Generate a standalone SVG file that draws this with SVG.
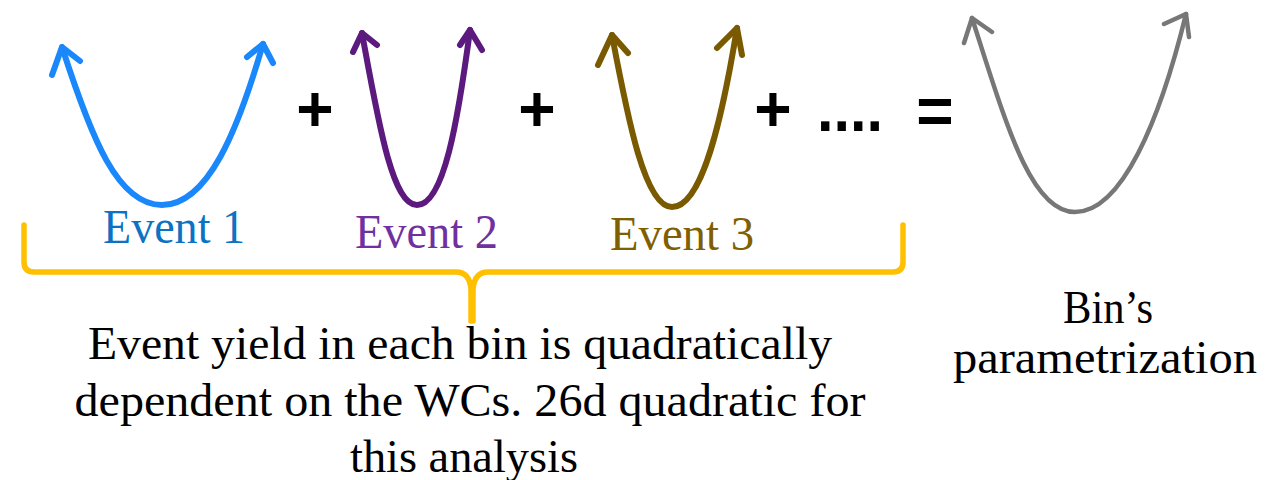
<svg xmlns="http://www.w3.org/2000/svg" width="1272" height="480" viewBox="0 0 1272 480">
<style>
.c{fill:none;stroke-linecap:round;stroke-linejoin:round}
.lbl{font-family:"Liberation Serif",serif;font-size:48px}
.txt{font-family:"Liberation Serif",serif;font-size:47px;fill:#000;text-anchor:middle}
.op{font-family:"Liberation Sans",Arial,sans-serif;font-weight:bold;font-size:64px;fill:#000;text-anchor:middle}
</style>
<rect width="1272" height="480" fill="#fff"/>
<g id="event1">
<path class="c" stroke="#1A87FA" stroke-width="6" d="M62,47 C92,140 118,205 162,205 C208,205 238,130 263,44"/>
<path class="c" stroke="#1A87FA" stroke-width="6" d="M52,75 L62,47 L80,61 M247,57 L263,44 L273,63"/>
<text class="lbl" x="103" y="243" fill="#0B72C4" textLength="142" lengthAdjust="spacingAndGlyphs">Event 1</text>
</g>
<g id="event2">
<path class="c" stroke="#5C1A7E" stroke-width="6" d="M362,33 C378,120 392,205 417,205 C444,205 458,120 470,30"/>
<path class="c" stroke="#5C1A7E" stroke-width="6" d="M353,52 L362,33 L377,45 M460,45 L470,30 L482,50"/>
<text class="lbl" x="355" y="248" fill="#7030A0" textLength="143" lengthAdjust="spacingAndGlyphs">Event 2</text>
</g>
<g id="event3">
<path class="c" stroke="#7A5A00" stroke-width="6" d="M612,35 C628,120 645,207 672,207 C702,207 722,120 737,28"/>
<path class="c" stroke="#7A5A00" stroke-width="6" d="M598,65 L612,35 L628,53 M717,48 L737,28 L742,55"/>
<text class="lbl" x="610" y="250" fill="#7F6000" textLength="144" lengthAdjust="spacingAndGlyphs">Event 3</text>
</g>
<g id="binparam">
<path class="c" stroke="#777777" stroke-width="4.5" d="M972,18 C1005,120 1030,212 1075,212 C1122,212 1160,120 1186,14"/>
<path class="c" stroke="#777777" stroke-width="4.5" d="M964,43 L972,18 L992,32 M1164,24 L1186,14 L1189,37"/>
<text class="txt" x="1108" y="323" textLength="90" lengthAdjust="spacingAndGlyphs">Bin’s</text>
<text class="txt" x="1105" y="373" textLength="304" lengthAdjust="spacingAndGlyphs">parametrization</text>
</g>
<g id="operators">
<text class="op" x="315" y="131">+</text>
<text class="op" x="537" y="131">+</text>
<text class="op" x="773" y="131">+</text>
<text class="op" x="850" y="131" textLength="66" lengthAdjust="spacingAndGlyphs">....</text>
<text class="op" x="935" y="133">=</text>
</g>
<g id="brace">
<path class="c" stroke="#FFC000" stroke-width="5.5" d="M24,225 V262 Q24,272 34,272 H456 Q470,272 471,290 V321 M903,225 V262 Q903,272 893,272 H488 Q474,272 473,290 V321"/>
</g>
<g id="caption">
<text class="txt" x="460" y="359" textLength="744" lengthAdjust="spacingAndGlyphs">Event yield in each bin is quadratically</text>
<text class="txt" x="470" y="416" textLength="791" lengthAdjust="spacingAndGlyphs">dependent on the WCs. 26d quadratic for</text>
<text class="txt" x="464" y="472" textLength="228" lengthAdjust="spacingAndGlyphs">this analysis</text>
</g>
</svg>
